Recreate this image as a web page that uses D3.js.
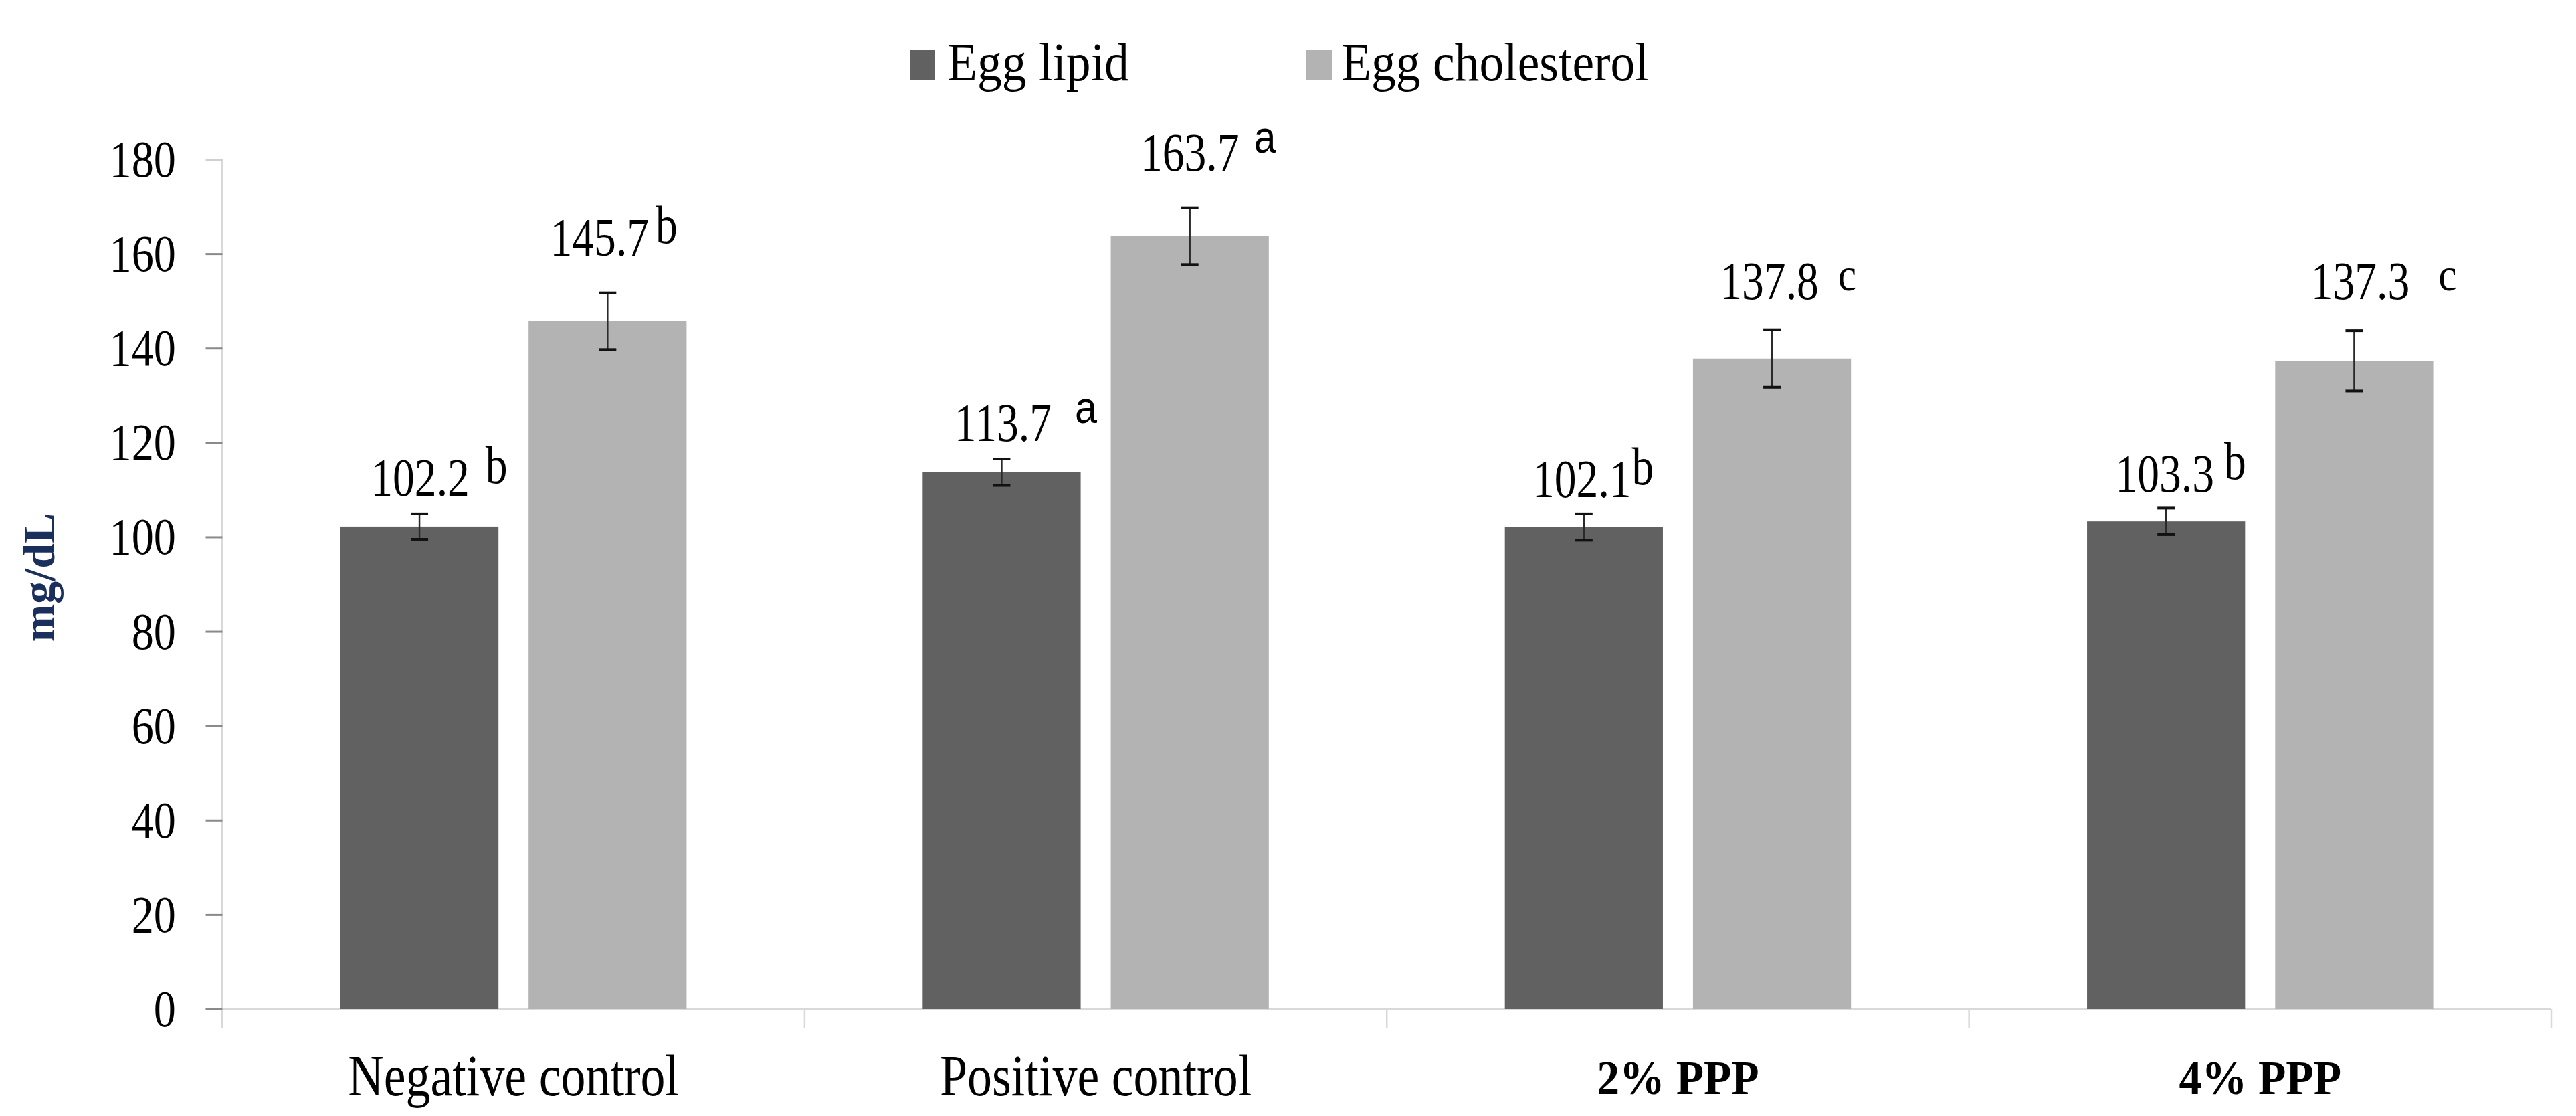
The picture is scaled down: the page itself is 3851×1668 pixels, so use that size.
<!DOCTYPE html>
<html>
<head>
<meta charset="utf-8">
<script src="https://cdn.jsdelivr.net/npm/d3@7"></script>
<style>
  html, body { margin: 0; padding: 0; background: #ffffff; }
  svg { display: block; }
</style>
</head>
<body>
<svg id="chart" width="3851" height="1668"></svg>
<script>
// ---------------- DATA ----------------
const categories = ["Negative control", "Positive control", "2% PPP", "4% PPP"];
const seriesNames = ["Egg lipid", "Egg cholesterol"];
const lipidValues = [102.2, 113.7, 102.1, 103.3];
const lipidErrors = [2.7, 2.8, 2.8, 2.8];
const lipidLetters = ["b", "a", "b", "b"];
const cholValues = [145.7, 163.7, 137.8, 137.3];
const cholErrors = [6.0, 6.0, 6.1, 6.4];
const cholLetters = ["b", "a", "c", "c"];
const yTicks = [0, 20, 40, 60, 80, 100, 120, 140, 160, 180];
const yTitle = "mg/dL";

// ---------------- LAYOUT (label nudges, px) ----------------
const lipidLabelShift = [1, 2, -3, -2];
const lipidLabelLift = [27, 27, 25, 24];
const lipidLetterGap = [24, 35, 1, 15];
const cholLabelShift = [-12, 0, -4, 9];
const cholLabelLift = [56, 56, 46, 47];
const cholLetterGap = [10, 22, 29, 43];

const colors = { "Egg lipid": "#616161", "Egg cholesterol": "#b3b3b3" };
const serif = "'Liberation Serif', 'Times New Roman', serif";
const sans = "'Liberation Sans', Arial, sans-serif";

const svg = d3.select("#chart");

const plotLeft = 332.5, plotRight = 3814, plotTop = 238, plotBottom = 1508;

const y = d3.scaleLinear().domain([0, 180]).range([plotBottom, plotTop]);
const x0 = d3.scaleBand().domain(categories).range([plotLeft, plotRight]).padding(0);
const groupInset = (x0.bandwidth() - 517.5) / 2;
const x1 = d3.scaleBand().domain(seriesNames)
  .range([groupInset, x0.bandwidth() - groupInset]).paddingInner(0.16).paddingOuter(0);

// Helper: condensed text
function addText(g, str, x, yy, opts) {
  const sx = opts.sx || 1;
  const t = g.append("text")
    .attr("transform", `translate(${x},${yy}) scale(${sx},1)`)
    .attr("text-anchor", opts.anchor || "start")
    .attr("font-family", opts.family || serif)
    .attr("font-size", opts.size)
    .attr("font-weight", opts.weight || "normal")
    .attr("fill", opts.fill || "#000")
    .text(str);
  return t;
}

// ---------------- AXES ----------------
const axisG = svg.append("g");
axisG.append("line")
  .attr("x1", plotLeft).attr("x2", plotLeft)
  .attr("y1", y(180)).attr("y2", plotBottom + 29)
  .attr("stroke", "#d9d9d9").attr("stroke-width", 3);
const yAxis = d3.axisLeft(y).tickValues(yTicks).tickSize(25).tickFormat("");
const yAxisG = svg.append("g").attr("transform", `translate(${plotLeft},0)`).call(yAxis);
yAxisG.select(".domain").remove();
yAxisG.selectAll(".tick line").attr("stroke", (d) => d === 180 ? "#d0d0d0" : "#8a8a8a").attr("stroke-width", 3);

yTicks.forEach((v) => {
  addText(svg, String(v), 263, y(v) + 26, { anchor: "end", size: 78, sx: 0.85 });
});

axisG.append("line")
  .attr("x1", plotLeft - 25).attr("x2", plotRight)
  .attr("y1", plotBottom).attr("y2", plotBottom)
  .attr("stroke", "#d9d9d9").attr("stroke-width", 3);
const boundaries = categories.map((c) => x0(c)).concat([plotRight]);
boundaries.forEach((bx) => {
  axisG.append("line")
    .attr("x1", bx).attr("x2", bx)
    .attr("y1", plotBottom).attr("y2", plotBottom + 29)
    .attr("stroke", "#d9d9d9").attr("stroke-width", 2.5);
});

// ---------------- BARS ----------------
const rows = categories.map((c, i) => ({
  cat: c,
  items: [
    { s: "Egg lipid", v: lipidValues[i], e: lipidErrors[i], l: lipidLetters[i],
      shift: lipidLabelShift[i], lift: lipidLabelLift[i], gap: lipidLetterGap[i] },
    { s: "Egg cholesterol", v: cholValues[i], e: cholErrors[i], l: cholLetters[i],
      shift: cholLabelShift[i], lift: cholLabelLift[i], gap: cholLetterGap[i] }
  ]
}));

const groups = svg.append("g").selectAll("g").data(rows).join("g")
  .attr("transform", (d) => `translate(${x0(d.cat)},0)`);

groups.selectAll("rect").data((d) => d.items).join("rect")
  .attr("x", (d) => x1(d.s))
  .attr("y", (d) => y(d.v))
  .attr("width", x1.bandwidth())
  .attr("height", (d) => y(0) - y(d.v))
  .attr("fill", (d) => colors[d.s]);

groups.each(function (row) {
  const g = d3.select(this);
  row.items.forEach((d) => {
    const cx = x1(d.s) + x1.bandwidth() / 2;
    const capW = 13;
    g.append("line").attr("x1", cx).attr("x2", cx)
      .attr("y1", y(d.v + d.e)).attr("y2", y(d.v - d.e))
      .attr("stroke", "#2a2a2a").attr("stroke-width", 2.5);
    [d.v + d.e, d.v - d.e].forEach((ev) => {
      g.append("line").attr("x1", cx - capW).attr("x2", cx + capW)
        .attr("y1", y(ev)).attr("y2", y(ev))
        .attr("stroke", "#111").attr("stroke-width", 4);
    });

    const lx = cx + d.shift;
    const ly = y(d.v + d.e) - d.lift;
    const sx = 0.82;
    const num = addText(g, d.v.toFixed(1), lx, ly, { anchor: "middle", size: 80, sx: sx });
    const w = num.node().getComputedTextLength() * sx;
    const lxStart = lx + w / 2 + d.gap;
    if (d.l === "a") {
      addText(g, "a", lxStart, ly - 27, { size: 66, family: sans, sx: 0.9 });
    } else if (d.l === "c") {
      addText(g, "c", lxStart, ly - 13, { size: 70, sx: 0.88 });
    } else {
      addText(g, d.l, lxStart, ly - 19, { size: 80, sx: 0.82 });
    }
  });
});

// ---------------- X LABELS ----------------
categories.forEach((c) => {
  const cx = x0(c) + x0.bandwidth() / 2;
  if (c.indexOf("PPP") >= 0) {
    addText(svg, c, cx, 1635, { anchor: "middle", size: 72, weight: "bold", sx: 0.94 });
  } else {
    addText(svg, c, cx, 1637, { anchor: "middle", size: 86, sx: 0.86 });
  }
});

// ---------------- Y TITLE ----------------
svg.append("text")
  .attr("transform", "translate(81,863) rotate(-90)")
  .attr("text-anchor", "middle")
  .attr("font-family", serif)
  .attr("font-size", 68)
  .attr("font-weight", "bold")
  .attr("fill", "#1b2f5c")
  .text(yTitle);

// ---------------- LEGEND ----------------
const legendPos = [{ sq: 1360, tx: 1416 }, { sq: 1953, tx: 2005 }];
seriesNames.forEach((s, i) => {
  svg.append("rect")
    .attr("x", legendPos[i].sq).attr("y", 75)
    .attr("width", 38).attr("height", 45)
    .attr("fill", colors[s]);
  addText(svg, s, legendPos[i].tx, 120, { size: 80, sx: 0.92 });
});
</script>
</body>
</html>
